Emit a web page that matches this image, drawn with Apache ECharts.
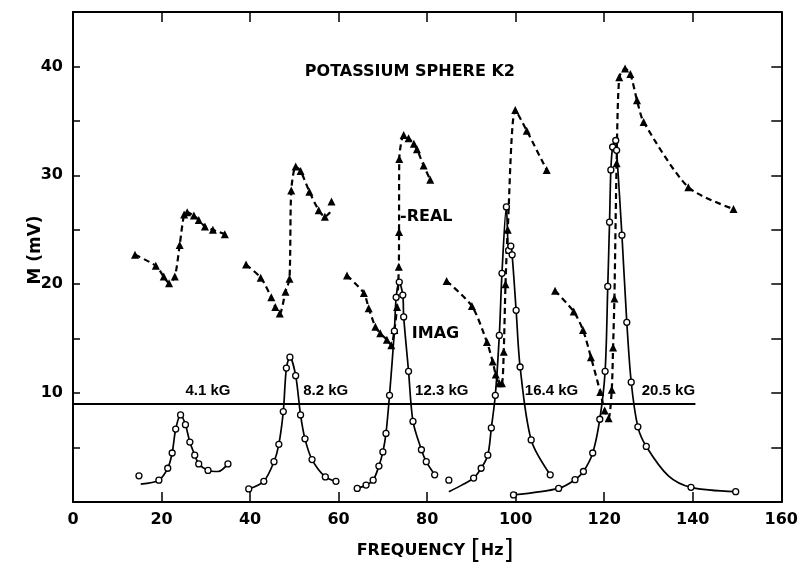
<!DOCTYPE html>
<html>
<head>
<meta charset="utf-8">
<script src="https://cdn.jsdelivr.net/npm/echarts@6/dist/echarts.min.js"></script>
<style>html,body{margin:0;padding:0;background:#fff}#c{width:801px;height:571px}</style>
</head>
<body>
<div id="c"></div>
<script>
// ---- data (frequency Hz, M mV) ----
const xTicks = [0, 20, 40, 60, 80, 100, 120, 140, 160];
const yTickLabels = [10, 20, 30, 40];

// REAL components (dashed, triangles)
const real41  = [[14.0,22.7],[18.7,21.7],[20.5,20.7],[21.7,20.1],[23.0,20.7],[24.1,23.6],[25.1,26.4],[25.8,26.6],[27.3,26.3],[28.4,25.9],[29.8,25.3],[31.6,25.0],[34.3,24.6]];
const real82  = [[39.1,21.8],[42.4,20.6],[44.8,18.8],[45.7,17.9],[46.7,17.3],[48.0,19.3],[48.9,20.5],[49.3,28.6],[50.3,30.8],[51.4,30.4],[53.4,28.5],[55.5,26.8],[56.9,26.2]];
const real82Bare = [[58.1,26.6]];
const real123 = [[61.9,20.8],[65.7,19.2],[66.8,17.8],[68.3,16.1],[69.4,15.5],[70.9,14.9],[71.9,14.4],[72.6,15.8],[73.2,17.9],[73.6,21.6],[73.65,24.8],[73.7,31.5],[74.7,33.7],[75.8,33.4],[77.0,32.9],[77.7,32.4],[79.2,30.9],[80.7,29.6]];
const real164 = [[84.4,20.3],[90.1,18.0],[93.5,14.7],[94.8,12.9],[95.5,11.7],[96.3,10.9],[96.9,10.9],[97.3,13.8],[97.7,20.0],[98.2,25.0],[99.9,36.0],[102.5,34.1],[107.0,30.5]];
const real205 = [[108.9,19.4],[113.1,17.5],[115.2,15.8],[117.0,13.3],[119.1,10.1],[120.1,8.4],[121.0,7.7],[121.7,10.3],[122.0,14.2],[122.3,18.7],[122.8,31.1],[123.4,39.0],[124.7,39.8],[125.9,39.3],[127.4,36.9],[128.9,34.9],[139.0,28.9],[149.2,26.9]];
const strayReal = [[58.4,27.6]];

// IMAG components (solid, open circles)
const imag41  = [[19.4,2.0],[21.4,3.1],[22.4,4.5],[23.2,6.7],[24.3,8.0],[25.4,7.1],[26.4,5.5],[27.5,4.3],[28.4,3.5],[30.5,2.9],[35.0,3.5]];
const imag41Bare = [[15.3,1.65],[32.8,2.8]];
const imag82  = [[39.7,1.2],[43.1,1.9],[45.4,3.7],[46.5,5.3],[47.5,8.3],[48.2,12.3],[49.0,13.3],[50.3,11.6],[51.4,8.0],[52.4,5.8],[54.0,3.9],[57.0,2.3],[59.4,1.9]];
const imag123 = [[64.2,1.25],[66.2,1.55],[67.8,2.0],[69.1,3.3],[70.0,4.6],[70.7,6.3],[71.5,9.8],[72.6,15.7],[73.0,18.8],[73.7,20.2],[74.5,19.0],[74.7,17.0],[75.8,12.0],[76.8,7.4],[78.7,4.8],[79.8,3.7],[81.7,2.5]];
const imag164 = [[90.5,2.2],[92.2,3.1],[93.7,4.3],[94.5,6.8],[95.4,9.8],[96.3,15.3],[96.9,21.0],[97.9,27.1],[98.4,23.1],[98.9,23.5],[99.2,22.7],[100.1,17.6],[101.0,12.4],[103.5,5.7],[107.8,2.5]];
const imag164Bare = [[84.9,0.95],[87.8,1.55]];
const imag205 = [[99.5,0.65],[109.7,1.25],[113.4,2.05],[115.3,2.8],[117.4,4.5],[119.0,7.6],[120.2,12.0],[120.8,19.8],[121.2,25.7],[121.5,30.5],[121.9,32.6],[122.6,33.2],[122.8,32.3],[124.0,24.5],[125.1,16.5],[126.1,11.0],[127.6,6.9],[129.5,5.1],[139.6,1.35],[149.7,0.95]];
const imag205Bare = [[134.5,2.4]];
const strayImag = [[14.9,2.4],[84.9,2.0]];

// baseline separating the two plots
const baseline = [[-5.6,9.0],[140.6,9.0]];

// annotations [x, y, text, style]
const notes = [
  [76.1,39.5,'POTASSIUM SPHERE K2','big'],
  [79.8,26.2,'-REAL','big'],
  [81.9,15.4,'IMAG','big'],
  [30.5,10.2,'4.1 kG','kg'],
  [57.1,10.2,'8.2 kG','kg'],
  [83.3,10.2,'12.3 kG','kg'],
  [108.1,10.2,'16.4 kG','kg'],
  [134.5,10.2,'20.5 kG','kg']
];

// ---- chart ----
const FONT = 'DejaVu Sans';
function merge(marks, bare) {
  const d = marks.map(p => ({ value: p }));
  (bare || []).forEach(p => d.push({ value: p, symbol: 'none' }));
  d.sort((a, b) => a.value[0] - b.value[0]);
  return d;
}
function realSeries(marks, bare) {
  return {
    type: 'line', data: merge(marks, bare), smooth: 0.25,
    symbol: 'triangle', symbolSize: 8, showAllSymbol: true,
    lineStyle: { color: '#000', width: 2.2, type: [6, 4] },
    itemStyle: { color: '#000', opacity: 1 }, z: 3
  };
}
function imagSeries(marks, bare) {
  return {
    type: 'line', data: merge(marks, bare), smooth: 0.3,
    symbol: 'circle', symbolSize: 6, showAllSymbol: true,
    lineStyle: { color: '#000', width: 1.7 },
    itemStyle: { color: '#fff', borderColor: '#000', borderWidth: 1.3, opacity: 1 }, z: 4
  };
}
const series = [
  realSeries(real41), realSeries(real82, real82Bare), realSeries(real123),
  realSeries(real164), realSeries(real205),
  imagSeries(imag41, imag41Bare), imagSeries(imag82), imagSeries(imag123),
  imagSeries(imag164, imag164Bare), imagSeries(imag205, imag205Bare),
  { type: 'scatter', data: strayReal, symbol: 'triangle', symbolSize: 8, itemStyle: { color: '#000', opacity: 1 }, z: 3 },
  { type: 'scatter', data: strayImag, symbol: 'circle', symbolSize: 6,
    itemStyle: { color: '#fff', borderColor: '#000', borderWidth: 1.3, opacity: 1 }, z: 4 },
  { type: 'line', data: baseline, clip: false, symbol: 'none',
    lineStyle: { color: '#000', width: 2 }, z: 2 },
  { type: 'scatter', data: notes, symbolSize: 0, z: 5, itemStyle: { opacity: 1 },
    label: {
      show: true, position: 'inside', color: '#000', textBorderWidth: 0,
      formatter: p => '{' + p.value[3] + '|' + p.value[2] + '}',
      rich: {
        big: { fontFamily: FONT, fontWeight: 'bold', fontSize: 16, color: '#000', textBorderWidth: 0 },
        kg: { fontFamily: 'Liberation Sans', fontWeight: 'bold', fontSize: 15, color: '#000', textBorderWidth: 0 }
      }
    }
  }
];

const chart = echarts.init(document.getElementById('c'), null, { renderer: 'canvas' });
const axisLineStyle = { color: '#000', width: 2 };
chart.setOption({
  animation: false,
  backgroundColor: '#fff',
  grid: { left: 73, right: 18, top: 12, bottom: 69, containLabel: false },
  xAxis: [
    {
      type: 'value', min: xTicks[0], max: xTicks[xTicks.length - 1], interval: xTicks[1] - xTicks[0],
      position: 'bottom',
      axisLine: { show: true, onZero: false, lineStyle: axisLineStyle },
      axisTick: { show: true, inside: true, length: 10, lineStyle: { color: '#000', width: 1.5 } },
      axisLabel: { show: true, margin: 10, color: '#000', fontFamily: FONT, fontWeight: 'bold', fontSize: 16,
        formatter: v => xTicks.includes(v) ? String(v) : '' },
      splitLine: { show: false },
      name: '{t|FREQUENCY }{b|[}{t|Hz}{b|]}', nameLocation: 'middle', nameGap: 36, nameMoveOverlap: false,
      nameTextStyle: { padding: [0, 0, 0, 16], rich: {
        t: { fontFamily: FONT, fontWeight: 'bold', fontSize: 16, color: '#000' },
        b: { fontFamily: FONT, fontWeight: 'normal', fontSize: 26, color: '#000' } } }
    },
    {
      type: 'value', min: xTicks[0], max: xTicks[xTicks.length - 1], interval: xTicks[1] - xTicks[0],
      position: 'top',
      axisLine: { show: true, onZero: false, lineStyle: axisLineStyle },
      axisTick: { show: true, inside: true, length: 10, lineStyle: { color: '#000', width: 1.5 } },
      axisLabel: { show: false }, splitLine: { show: false }
    }
  ],
  yAxis: [
    {
      type: 'value', min: 0, max: 45, interval: 5, position: 'left',
      axisLine: { show: true, onZero: false, lineStyle: axisLineStyle },
      axisTick: { show: true, inside: true, length: 7, lineStyle: { color: '#000', width: 1.5 } },
      axisLabel: { show: true, margin: 10, color: '#000', fontFamily: FONT, fontWeight: 'bold', fontSize: 16,
        formatter: v => yTickLabels.includes(v) ? String(v) : '' },
      splitLine: { show: false },
      name: 'M (mV)', nameLocation: 'middle', nameGap: 29, nameMoveOverlap: false,
      nameTextStyle: { fontFamily: FONT, fontWeight: 'bold', fontSize: 17, color: '#000', padding: [0, 0, 0, 14] }
    },
    {
      type: 'value', min: 0, max: 45, interval: 5, position: 'right',
      axisLine: { show: true, onZero: false, lineStyle: axisLineStyle },
      axisTick: { show: true, inside: true, length: 10, lineStyle: { color: '#000', width: 1.5 } },
      axisLabel: { show: false }, splitLine: { show: false }
    }
  ],
  series: series
});
</script>
</body>
</html>
